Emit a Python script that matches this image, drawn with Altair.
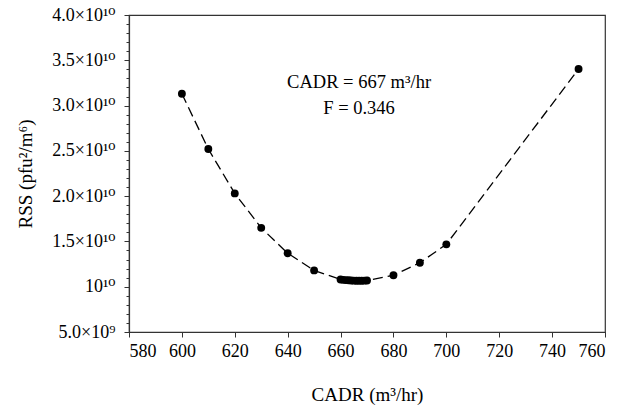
import altair as alt
import pandas as pd

cadr = [600, 610, 620, 630, 640, 650,
        660, 661, 662, 663, 664, 665, 666, 667, 668, 669, 670,
        680, 690, 700, 750]
# RSS in units of 1e9 pfu²/m⁶
rss_e9 = [31.3, 25.2, 20.3, 16.5, 13.7, 11.8,
          10.80, 10.76, 10.73, 10.71, 10.69, 10.67, 10.66,
          10.66, 10.66, 10.67, 10.69,
          11.26, 12.65, 14.68, 34.04]

ann_text = ["CADR = 667 m³/hr", "F = 0.346"]
ann_x = [667, 667]
ann_y = [32.6, 29.75]

major_ticks = [5, 10, 15, 20, 25, 30, 35, 40]
minor_ticks = list(range(5, 41))
x_ticks = list(range(580, 761, 20))

df = pd.DataFrame({"cadr": cadr, "rss": rss_e9})
ann = pd.DataFrame({"t": ann_text, "x": ann_x, "y": ann_y})

FONT = "Liberation Serif, Times New Roman, DejaVu Serif, serif"
xscale = alt.Scale(domain=[580, 760], nice=False, zero=False)
yscale = alt.Scale(domain=[5, 40], nice=False, zero=False)

label_expr = ("datum.value == 5 ? '5.0×10⁹' : "
              "(datum.value == 10 ? '10¹⁰' : format(datum.value / 10, '.1f') + '×10¹⁰')")

xaxis = alt.Axis(values=x_ticks, title="CADR (m³/hr)", grid=False,
                 tickSize=5, labelPadding=5, titlePadding=25)

yaxis = alt.Axis(values=major_ticks, labelExpr=label_expr, orient="left",
                 title="RSS (pfu²/m⁶)", grid=False, tickSize=5,
                 labelPadding=9, titlePadding=16)

yaxis_minor = alt.Axis(values=minor_ticks, labels=False, title=None, orient="left",
                       grid=False, tickSize=3, domain=False)

line = alt.Chart(df).mark_line(color="black", strokeDash=[10, 5], strokeWidth=1.3,
                               interpolate="linear").encode(
    x=alt.X("cadr:Q", scale=xscale, axis=xaxis),
    y=alt.Y("rss:Q", scale=yscale, axis=yaxis),
)

minor = alt.Chart(df).mark_point(opacity=0).encode(
    x=alt.X("cadr:Q", scale=xscale),
    y=alt.Y("rss:Q", scale=yscale, axis=yaxis_minor),
)

pts = alt.Chart(df).mark_circle(color="black", size=62, opacity=1).encode(
    x=alt.X("cadr:Q", scale=xscale),
    y=alt.Y("rss:Q", scale=yscale, axis=None),
)

txt = alt.Chart(ann).mark_text(font=FONT, fontSize=18.5, color="black").encode(
    x=alt.X("x:Q", scale=xscale),
    y=alt.Y("y:Q", scale=yscale, axis=None),
    text="t:N",
)

chart = alt.layer(line, minor, pts, txt).resolve_axis(y="independent").properties(
    width=476, height=317,
    autosize=alt.AutoSizeParams(type="none"),
    padding={"left": 129, "top": 15, "right": 15, "bottom": 74},
).configure_view(stroke="#333", strokeWidth=1.2).configure_axis(
    labelFont=FONT, titleFont=FONT, labelFontSize=18, titleFontSize=19,
    labelColor="black", titleColor="black", titleFontWeight="normal",
    domainColor="#333", tickColor="#333", domainWidth=1.2,
)

chart.save("out.html", embed_options={"renderer": "svg", "actions": False})
